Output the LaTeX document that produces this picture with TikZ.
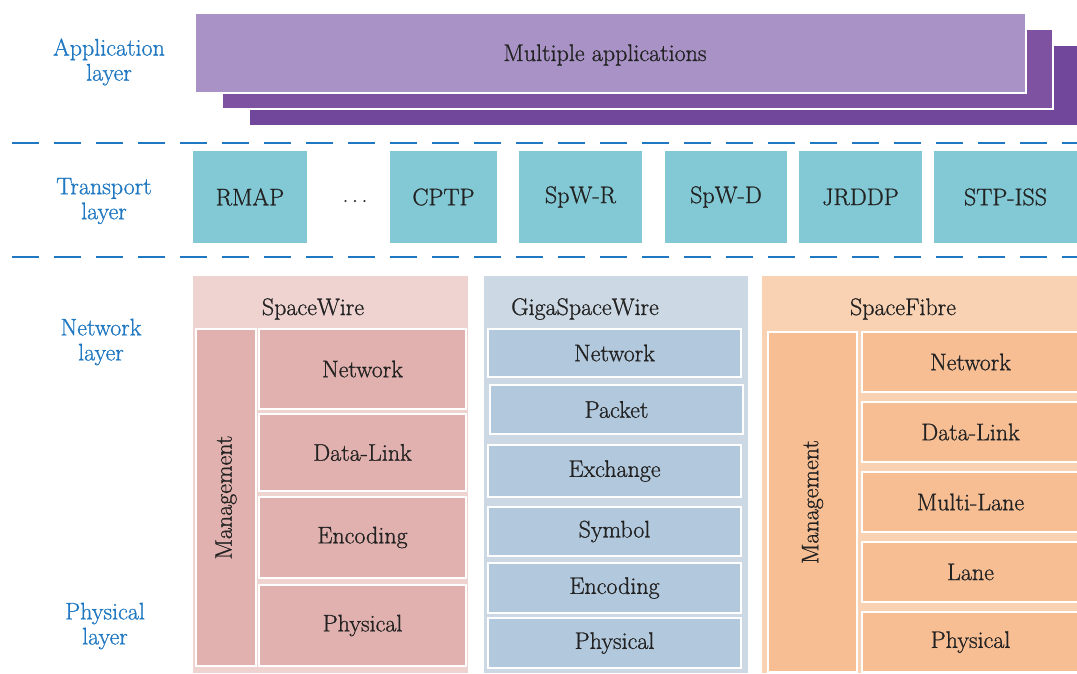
\documentclass[tikz,border=0pt]{standalone}
\usepackage{fontspec}
\usepackage{tikz}
\usepackage{amsmath}

\newfontfamily\dfont{Latin Modern Roman}[FakeBold=0.9]

\definecolor{appA}{HTML}{A892C6}
\definecolor{appB}{HTML}{7E52A0}
\definecolor{appC}{HTML}{70479A}
\definecolor{trans}{HTML}{83C9D5}
\definecolor{lblue}{HTML}{1F78C1}
\definecolor{txt}{HTML}{222222}
\definecolor{swbg}{HTML}{EED3D1}
\definecolor{swbox}{HTML}{E0B1AE}
\definecolor{gswbg}{HTML}{CCD8E4}
\definecolor{gswbox}{HTML}{B2C8DC}
\definecolor{sfbg}{HTML}{F9D2B4}
\definecolor{sfbox}{HTML}{F7BE94}

\tikzset{
  blk/.style={anchor=north west, inner sep=0pt, outer sep=0pt, text=txt,
    font=\dfont\fontsize{24}{28}\selectfont},
  cell/.style={blk, draw=white, line width=1.2pt},
  lbl/.style={text=lblue, align=center, font=\dfont\fontsize{24}{25}\selectfont},
  sep/.style={lblue, line width=1.3pt, dash pattern=on 27pt off 15pt}
}

\begin{document}
\begin{tikzpicture}[x=1pt,y=-1pt]
\useasboundingbox (0,0) rectangle (1077,673);
% layer names:
\node[lbl] (app) at (109,62) {Application\\layer};
\node[lbl] (tra) at (104,201) {Transport\\layer};
\node[lbl] (net) at (101,342) {Network\\layer};
\node[lbl] (phy) at (105,626) {Physical\\layer};
% application stack:
\node[blk, fill=appC, minimum width=827pt, minimum height=79pt] (appc) at (250,46) {};
\node[cell, fill=appB, minimum width=831pt, minimum height=80pt] (appb) at (222,29) {};
\node[cell, fill=appA, minimum width=831pt, minimum height=80pt] (appa) at (195,13) {};
\node[blk, anchor=center] (appt) at (605,55) {Multiple applications};
% separators:
\draw[sep] (12,143) -- (1077,143);
\draw[sep] (12,257) -- (1077,257);
% transport protocols:
\node[blk, fill=trans, minimum width=114pt, minimum height=92pt] (rmap) at (193,151) {RMAP};
\node[blk, anchor=center] (dots) at (355,201) {.\kern3.5pt.\kern3.5pt.};
\node[blk, fill=trans, minimum width=107pt, minimum height=92pt] (cptp) at (390,151) {CPTP};
\node[blk, fill=trans, minimum width=123pt, minimum height=92pt] (spwr) at (519,151) {SpW-R};
\node[blk, fill=trans, minimum width=122pt, minimum height=92pt] (spwd) at (665,151) {SpW-D};
\node[blk, fill=trans, minimum width=123pt, minimum height=92pt] (jrddp) at (799,151) {JRDDP};
\node[blk, fill=trans, minimum width=143pt, minimum height=92pt] (stp) at (934,151) {STP-ISS};
% SpaceWire:
\node[blk, fill=swbg, minimum width=275pt, minimum height=397pt] (sw) at (193,276) {};
\node[blk, anchor=center] (swt) at (313,309) {SpaceWire};
\node[cell, fill=swbox, minimum width=60pt, minimum height=337pt] (swm) at (196,329) {};
\node[blk, anchor=center, rotate=90] at (swm.center) {Management};
\node[cell, fill=swbox, minimum width=207pt, minimum height=80pt] (swnet) at (259,329) {Network};
\node[cell, fill=swbox, minimum width=207pt, minimum height=77pt] (swdl) at (259,414) {Data-Link};
\node[cell, fill=swbox, minimum width=207pt, minimum height=81pt] (swenc) at (259,497) {Encoding};
\node[cell, fill=swbox, minimum width=207pt, minimum height=81pt] (swphy) at (259,585) {Physical};
% GigaSpaceWire:
\node[blk, fill=gswbg, minimum width=264pt, minimum height=397pt] (gsw) at (484,276) {};
\node[blk, anchor=center] (gswt) at (585,309) {GigaSpaceWire};
\node[cell, fill=gswbox, minimum width=253pt, minimum height=48pt] (gnet) at (488,329) {Network};
\node[cell, fill=gswbox, minimum width=253pt, minimum height=49pt] (gpkt) at (490,385) {Packet};
\node[cell, fill=gswbox, minimum width=253pt, minimum height=52pt] (gexc) at (488,445) {Exchange};
\node[cell, fill=gswbox, minimum width=253pt, minimum height=49pt] (gsym) at (488,507) {Symbol};
\node[cell, fill=gswbox, minimum width=253pt, minimum height=50pt] (genc) at (488,563) {Encoding};
\node[cell, fill=gswbox, minimum width=253pt, minimum height=50pt] (gphy) at (488,618) {Physical};
% SpaceFibre:
\node[blk, fill=sfbg, minimum width=315pt, minimum height=397pt] (sf) at (762,276) {};
\node[blk, anchor=center] (sft) at (903,309) {SpaceFibre};
\node[cell, fill=sfbox, minimum width=89pt, minimum height=340pt] (sfm) at (768,332) {};
\node[blk, anchor=center, rotate=90] at (sfm.center) {Management};
\node[cell, fill=sfbox, minimum width=217pt, minimum height=60pt] (sfnet) at (862,332) {Network};
\node[cell, fill=sfbox, minimum width=217pt, minimum height=60pt] (sfdl) at (862,402) {Data-Link};
\node[cell, fill=sfbox, minimum width=217pt, minimum height=60pt] (sfml) at (862,472) {Multi-Lane};
\node[cell, fill=sfbox, minimum width=217pt, minimum height=60pt] (sfln) at (862,542) {Lane};
\node[cell, fill=sfbox, minimum width=217pt, minimum height=60pt] (sfphy) at (862,612) {Physical};
\end{tikzpicture}
\end{document}
